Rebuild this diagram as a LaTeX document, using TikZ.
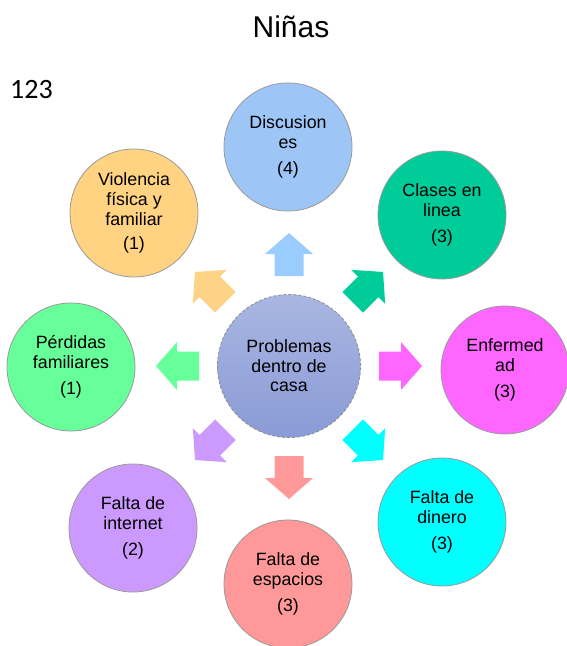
\documentclass[tikz,border=0pt]{standalone}
\usepackage{fontspec}
\setmainfont{Liberation Sans}
\newfontfamily\carlito{Carlito}
\definecolor{cdisc}{HTML}{9DC6F7}
\definecolor{adisc}{HTML}{99CCFF}
\definecolor{cviol}{HTML}{FFD382}
\definecolor{aviol}{HTML}{FFD385}
\definecolor{cclas}{HTML}{00CC99}
\definecolor{cenf}{HTML}{FF66FF}
\definecolor{cdin}{HTML}{00FFFF}
\definecolor{cesp}{HTML}{FF9999}
\definecolor{cinet}{HTML}{CC99FF}
\definecolor{cperd}{HTML}{66FF99}
\definecolor{hubtop}{HTML}{A9B6E2}
\definecolor{hubbot}{HTML}{8A9BD6}
\newcommand{\blockarr}[2]{%
  \fill[#2, shift={(hub.center)}, rotate=#1]
    (90,-14.5) -- (112,-14.5) -- (112,-24) -- (133,0) -- (112,24) -- (112,14.5) -- (90,14.5) -- cycle;}
\begin{document}
\begin{tikzpicture}[x=1pt,y=-1pt,
  bubble/.style={circle, minimum size=128pt, inner sep=0pt, align=center,
    draw=black!40, line width=0.8pt, font=\fontsize{17.8}{20}\selectfont},
  hub/.style={circle, minimum size=143pt, inner sep=0pt, align=center,
    draw=black!45, densely dashed, line width=0.8pt, top color=hubtop, bottom color=hubbot,
    font=\fontsize{17.8}{19.5}\selectfont}]
\useasboundingbox (0,0) rectangle (567,646);
\node[inner sep=0pt] (title) at (291,27) {\fontsize{30}{30}\selectfont Niñas};
\node[anchor=base west, inner sep=0pt] (num) at (10,98) {\carlito\fontsize{28}{28}\selectfont 123};
\node[hub] (hub) at (289,366) {Problemas\\dentro de\\casa};
\node[bubble, fill=cdisc] (disc) at (288,147) {Discusion\\es\\[6.5pt](4)};
\node[bubble, fill=cviol] (viol) at (134,213) {Violencia\\física y\\familiar\\[4pt](1)};
\node[bubble, fill=cclas] (clas) at (442,215) {Clases en\\linea\\[6.5pt](3)};
\node[bubble, fill=cperd] (perd) at (71,367) {Pérdidas\\familiares\\[6.5pt](1)};
\node[bubble, fill=cenf] (enf) at (505,370) {Enfermed\\ad\\[6.5pt](3)};
\node[bubble, fill=cinet] (inet) at (133,528) {Falta de\\internet\\[6.5pt](2)};
\node[bubble, fill=cdin] (din) at (442,522) {Falta de\\dinero\\[6.5pt](3)};
\node[bubble, fill=cesp] (esp) at (288,584) {Falta de\\espacios\\[6.5pt](3)};
\blockarr{90}{adisc}
\blockarr{45}{cclas}
\blockarr{0}{cenf}
\blockarr{-45}{cdin}
\blockarr{-90}{cesp}
\blockarr{-135}{cinet}
\blockarr{180}{cperd}
\blockarr{135}{aviol}
\end{tikzpicture}
\end{document}
